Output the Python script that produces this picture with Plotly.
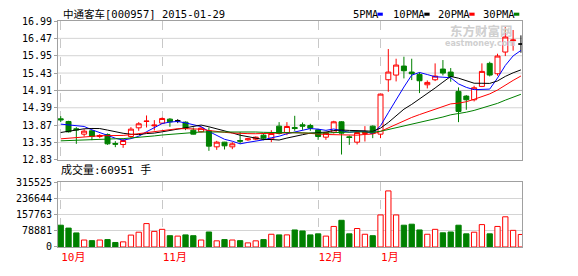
import plotly.graph_objects as go

# ---------------- data ----------------
dates = [
    "2014-10-15", "2014-10-16", "2014-10-17", "2014-10-20", "2014-10-21", "2014-10-22", "2014-10-23",
    "2014-10-24", "2014-10-27", "2014-10-28", "2014-10-29", "2014-10-30", "2014-10-31",
    "2014-11-03", "2014-11-04", "2014-11-05", "2014-11-06", "2014-11-07", "2014-11-10", "2014-11-11",
    "2014-11-12", "2014-11-13", "2014-11-14", "2014-11-17", "2014-11-18", "2014-11-19", "2014-11-20",
    "2014-11-21", "2014-11-24", "2014-11-25", "2014-11-26", "2014-11-27", "2014-11-28",
    "2014-12-01", "2014-12-02", "2014-12-03", "2014-12-04", "2014-12-05", "2014-12-08", "2014-12-09",
    "2014-12-10",
    "2015-01-05", "2015-01-06", "2015-01-07", "2015-01-08", "2015-01-09", "2015-01-12", "2015-01-13",
    "2015-01-14", "2015-01-15", "2015-01-16", "2015-01-19", "2015-01-20", "2015-01-21", "2015-01-22",
    "2015-01-23", "2015-01-26", "2015-01-27", "2015-01-28", "2015-01-29",
]
opens = [14.06, 13.98, 13.76, 13.60, 13.70, 13.53, 13.59, 13.32, 13.29, 13.53,
         13.79, 13.98, 13.85, 13.93, 14.05, 14.00, 13.96, 13.72, 13.67, 13.70,
         13.22, 13.36, 13.22, 13.41, 13.43, 13.45, 13.57, 13.46, 13.84, 13.65,
         13.80, 13.88, 13.86, 13.73, 13.51, 13.66, 13.97, 13.52, 13.36, 13.62,
         13.84, 13.60, 15.23, 15.37, 15.64, 15.46, 15.39, 15.08, 15.23, 15.55,
         15.46, 14.88, 14.74, 14.63, 15.03, 15.72, 15.41, 16.06, 16.40, 16.30]
highs = [14.14, 14.00, 13.81, 13.75, 13.72, 13.60, 13.62, 13.39, 13.46, 13.81,
         13.96, 14.16, 14.02, 14.10, 14.08, 14.05, 13.98, 13.80, 13.82, 13.80,
         13.40, 13.37, 13.36, 13.66, 13.49, 13.53, 13.60, 13.72, 13.96, 13.96,
         14.15, 13.95, 13.91, 13.76, 13.67, 14.00, 13.99, 13.56, 13.70, 13.84,
         13.86, 14.81, 16.15, 15.86, 15.92, 15.86, 15.45, 15.21, 15.72, 15.82,
         15.58, 15.00, 14.77, 15.05, 15.72, 15.77, 16.01, 16.84, 16.72, 16.56]
lows = [13.96, 13.65, 13.31, 13.53, 13.42, 13.48, 13.28, 13.21, 13.19, 13.48,
        13.70, 13.80, 13.71, 13.90, 13.82, 13.93, 13.72, 13.59, 13.65, 13.10,
        13.13, 13.14, 13.15, 13.31, 13.40, 13.42, 13.42, 13.36, 13.59, 13.57,
        13.70, 13.73, 13.70, 13.43, 13.43, 13.62, 12.99, 13.28, 13.29, 13.38,
        13.48, 13.48, 14.87, 15.18, 15.27, 15.22, 14.83, 14.97, 15.19, 15.36,
        15.17, 13.96, 14.33, 14.58, 15.01, 15.33, 15.35, 15.94, 16.10, 16.04]
closes = [14.03, 13.67, 13.73, 13.69, 13.53, 13.56, 13.31, 13.30, 13.41, 13.75,
          13.91, 13.99, 13.87, 14.07, 13.97, 14.00, 13.78, 13.60, 13.78, 13.24,
          13.36, 13.25, 13.31, 13.39, 13.46, 13.51, 13.48, 13.62, 13.62, 13.83,
          13.77, 13.84, 13.78, 13.53, 13.65, 13.97, 13.63, 13.50, 13.65, 13.67,
          13.63, 14.80, 15.46, 15.67, 15.50, 15.41, 15.20, 15.15, 15.34, 15.43,
          15.33, 14.28, 14.63, 14.99, 15.48, 15.37, 15.94, 16.51, 16.42, 16.30]
volumes = [106000, 92000, 68600, 34000, 31000, 34000, 36000, 22000, 25000, 58000,
           72000, 114000, 76000, 86000, 55000, 53000, 59000, 55000, 34000, 73000,
           30000, 36000, 34000, 31000, 20000, 30000, 36000, 62000, 59000, 59000,
           83000, 78000, 59000, 64000, 53000, 100000, 130000, 64000, 90000, 62000,
           55000, 156000, 273000, 156000, 106000, 111000, 83000, 62000, 86000, 69000,
           73000, 106000, 64000, 72000, 109000, 64000, 100000, 147000, 81000, 60951]
# closes of the 29 sessions before the window (estimated from the MA lines' start)
prior_closes = [13.35, 13.30, 13.25, 13.22, 13.26, 13.30, 13.28, 13.27, 13.29, 13.28,
                13.26, 13.24, 13.28, 13.30, 13.27, 13.25, 13.26, 13.29, 13.28, 13.27,
                13.27, 13.33, 13.39, 13.43, 13.58, 13.77, 13.83, 13.84, 14.03]

month_ticks = ["2014-10-15", "2014-11-03", "2014-12-01", "2015-01-05"]
month_labels = ["10月", "11月", "12月", "1月"]
price_ticks = [12.83, 13.35, 13.87, 14.39, 14.91, 15.43, 15.95, 16.47, 16.99]
vol_ticks = [0, 78881, 157763, 236644, 315525]
ma_periods = [5, 10, 20, 30]
ma_names = ["5PMA", "10PMA", "20PMA", "30PMA"]
ma_colors = ["#0000ff", "#000000", "#ff0000", "#008000"]
title_text = "中通客车[000957] 2015-01-29"
vol_title = "成交量:60951 手"

RED = "#ff0000"
GREEN = "#008000"
MONO = "DejaVu Sans Mono, Noto Sans CJK SC"

n = len(closes)
all_closes = prior_closes + closes


def moving_average(p):
    k = len(prior_closes)
    return [sum(all_closes[k + i - p + 1:k + i + 1]) / p for i in range(n)]


def subset(idx):
    return dict(x=[dates[i] for i in idx], open=[opens[i] for i in idx],
                high=[highs[i] for i in idx], low=[lows[i] for i in idx],
                close=[closes[i] for i in idx])


up_idx = [i for i in range(n) if closes[i] > opens[i]]
dn_idx = [i for i in range(n) if closes[i] < opens[i]]
flat_idx = [i for i in range(n) if closes[i] == opens[i]]

fig = go.Figure()

for idx, lc, fc in [(up_idx, RED, "#ffffff"), (dn_idx, GREEN, GREEN), (flat_idx, "#000000", "#000000")]:
    fig.add_trace(go.Candlestick(
        **subset(idx), xaxis="x", yaxis="y",
        increasing=dict(line=dict(color=lc, width=1), fillcolor=fc),
        decreasing=dict(line=dict(color=lc, width=1), fillcolor=fc),
        showlegend=False, hoverinfo="skip"))

for p, c in zip(ma_periods, ma_colors):
    fig.add_trace(go.Scatter(x=dates, y=moving_average(p), mode="lines",
                             line=dict(color=c, width=1), xaxis="x", yaxis="y",
                             showlegend=False, hoverinfo="skip"))

vup = [i for i in range(n) if closes[i] >= opens[i]]
vdn = [i for i in range(n) if closes[i] < opens[i]]
fig.add_trace(go.Bar(x=[dates[i] for i in vup], y=[volumes[i] for i in vup], width=0.68,
                     marker=dict(color="#ffffff", line=dict(color=RED, width=1)),
                     xaxis="x2", yaxis="y2", showlegend=False, hoverinfo="skip"))
fig.add_trace(go.Bar(x=[dates[i] for i in vdn], y=[volumes[i] for i in vdn], width=0.68,
                     marker=dict(color=GREEN, line=dict(color=GREEN, width=1)),
                     xaxis="x2", yaxis="y2", showlegend=False, hoverinfo="skip"))

W, H = 578, 276
L, R, T, B = 58, 56, 21, 19
pw, ph = W - L - R, H - T - B


def px(x):
    return (x - L) / pw


def py(y):
    return (H - B - y) / ph


axis_common = dict(showline=True, mirror=True, linecolor="#a0a0a0", linewidth=1, zeroline=False)
xcommon = dict(type="category", categoryorder="array", categoryarray=dates,
               range=[-0.35, 59.14], tickvals=month_ticks, showgrid=True,
               gridcolor="#c8c8c8", griddash="dash", gridwidth=1, **axis_common)

fig.update_layout(
    width=W, height=H, margin=dict(l=L, r=R, t=T, b=B),
    paper_bgcolor="#ffffff", plot_bgcolor="#ffffff",
    showlegend=False, boxgap=0.36, boxgroupgap=0, barmode="overlay",
    font=dict(family=MONO, size=10, color="#000000"),
    xaxis=dict(domain=[0, 1], anchor="y", showticklabels=False, ticks="",
               rangeslider=dict(visible=False), **xcommon),
    xaxis2=dict(domain=[0, 1], anchor="y2", matches="x", ticktext=month_labels, ticks="",
                tickfont=dict(color=RED, size=11, family=MONO),
                ticklabelposition="outside right", **xcommon),
    yaxis=dict(domain=[py(166), 1], range=[12.83, 16.99], tickvals=price_ticks,
               ticktext=["%.2f" % v for v in price_ticks], ticks="outside", ticklen=3,
               tickcolor="#a0a0a0", showgrid=False, **axis_common),
    yaxis2=dict(domain=[0, py(189.3)], range=[0, 315525], tickvals=vol_ticks,
                ticktext=[str(v) for v in vol_ticks], ticks="outside", ticklen=3,
                tickcolor="#a0a0a0", showgrid=True, gridcolor="#d4d4d4", **axis_common),
)

shapes = []
# horizontal grid of the price panel (middle line darker), drawn under the candles
for v in price_ticks[1:-1]:
    shapes.append(dict(type="line", xref="x domain", yref="y", x0=0, x1=1, y0=v, y1=v,
                       line=dict(color="#a8a8a8" if v == price_ticks[4] else "#d4d4d4", width=1),
                       layer="below"))

annotations = [
    dict(text=title_text, xref="paper", yref="paper", x=px(61), y=py(14), xanchor="left",
         yanchor="middle", showarrow=False, font=dict(size=10.5, family=MONO)),
    dict(text=vol_title, xref="paper", yref="paper", x=px(59), y=py(177), xanchor="left",
         yanchor="middle", showarrow=False, font=dict(size=11, family=MONO)),
    dict(text="<b>东方财富网</b>", xref="paper", yref="paper", x=px(481), y=py(31),
         xanchor="center", yanchor="middle", showarrow=False, borderpad=0,
         font=dict(size=12.5, color="#cfcfcf", family="Noto Sans CJK SC")),
    dict(text="<b>eastmoney.com</b>", xref="paper", yref="paper", x=px(480), y=py(44),
         xanchor="center", yanchor="middle", showarrow=False, borderpad=0,
         font=dict(size=8, color="#cfcfcf", family="DejaVu Sans")),
]

legend_text_x = [351, 391, 436, 481]
legend_sq_x = [377.5, 424.3, 469.3, 514]
for name, c, tx, sx in zip(ma_names, ma_colors, legend_text_x, legend_sq_x):
    annotations.append(dict(text=name, xref="paper", yref="paper", x=px(tx), y=py(14),
                            xanchor="left", yanchor="middle", showarrow=False,
                            font=dict(size=10.5, family=MONO)))
    shapes.append(dict(type="rect", xref="paper", yref="paper", x0=px(sx), x1=px(sx + 5.3),
                       y0=py(15.5), y1=py(12.3), fillcolor=c, line=dict(width=0)))

fig.update_layout(shapes=shapes, annotations=annotations)

fig.write_html("out.html")
